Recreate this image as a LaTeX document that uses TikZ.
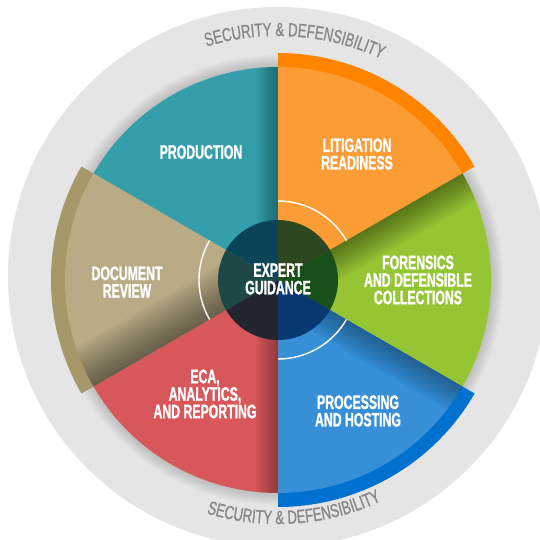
\documentclass[tikz,border=0pt]{standalone}
\usepackage{fontspec}
\usetikzlibrary{decorations.text}

\newfontfamily\wheelfont[FakeStretch=0.63,FakeBold=1.2]{Liberation Sans}
\newfontfamily\ringfont[FakeStretch=0.69,FakeBold=0.9]{Liberation Sans}

\definecolor{ringgrey}{HTML}{E5E5E5}
\definecolor{ringtext}{HTML}{878787}
\definecolor{prodteal}{HTML}{349FAB}
\definecolor{litorange}{HTML}{FB9C35}
\definecolor{litband}{HTML}{FF8400}
\definecolor{forgreen}{HTML}{96C534}
\definecolor{procblue}{HTML}{368FD7}
\definecolor{procband}{HTML}{0071CE}
\definecolor{ecared}{HTML}{D8575A}
\definecolor{revtan}{HTML}{B8AB85}
\definecolor{revband}{HTML}{A69868}

\begin{document}
\begin{tikzpicture}[
	x=1pt, y=1pt,
	seglabel/.style = {text=white, align=center, inner sep=0pt,
		font=\wheelfont\bfseries\fontsize{19.5}{17.5}\selectfont},
	ringlabel/.style = {decorate, decoration={text along path, text align=center,
		text color=ringtext,
		text={|\ringfont\fontsize{19}{19}\selectfont|SECURITY {\&} DEFENSIBILITY}}},
	guideline/.style = {draw=white, line width=1.4pt}
]
\fill[white] (-278,-260) rectangle (261,280);
\useasboundingbox (-278,-260) rectangle (261,280);

% outer ring
\fill[ringgrey] (0,3) circle (270);
\foreach \k in {1,...,8}
	\fill[black, opacity=.02] (0,0) circle (213+\k*1.5);

% outer bands
\foreach \a/\b/\col in {30/90/litband, 150/210/revband, 270/330/procband}
	\fill[\col] (0,0) -- (\a:227) arc (\a:\b:227) -- cycle;

% segments
\foreach \a/\b/\col in {90/150/prodteal, 30/90/litorange, -30/30/forgreen,
		-90/-30/procblue, -150/-90/ecared, 150/210/revtan}
	\fill[\col] (0,0) -- (\a:213) arc (\a:\b:213) -- cycle;

% shadows along the edges
\foreach \edge/\side/\ca/\cb/\w/\op in {90/1/90/150/1.6/.025, 30/-1/-30/30/2.2/.03,
		-30/-1/-90/-30/2/.025, -90/-1/-150/-90/1.6/.025, -150/-1/150/210/3/.035} {
	\begin{scope}
		\clip (0,0) -- (\ca:213) arc (\ca:\cb:213) -- cycle;
		\foreach \k in {1,...,14}
			\fill[black, opacity=\op, rotate=\edge] (0,0) rectangle (215,\side*\w*\k);
	\end{scope}
}

% white arcs
\draw[guideline] (30:79) arc (30:90:79);
\draw[guideline] (150:79) arc (150:210:79);
\draw[guideline] (270:79) arc (270:330:79);

% centre
\foreach \a/\b/\col in {90/150/0B4459, 30/90/2E4720, -30/30/18501A,
		-90/-30/0A3870, -150/-90/22242F, 150/210/1E4848} {
	\definecolor{hub}{HTML}{\col}
	\fill[hub] (0,0) -- (\a:60) arc (\a:\b:60) -- cycle;
}

\node[seglabel] (guide) at (0,1) {EXPERT\\GUIDANCE};
\node[seglabel] (prod) at (-77,128) {PRODUCTION};
\node[seglabel] (lit) at (79,126) {LITIGATION\\READINESS};
\node[seglabel] (forens) at (140,0) {FORENSICS\\AND DEFENSIBLE\\COLLECTIONS};
\node[seglabel] (proc) at (80,-131) {PROCESSING\\AND HOSTING};
\node[seglabel] (eca) at (-73,-114) {ECA,\\ANALYTICS,\\AND REPORTING};
\node[seglabel] (review) at (-151,-2) {DOCUMENT\\REVIEW};

% ring texts
\path[ringlabel] (131:244) arc (131:41:244);
\path[ringlabel] (229:244) arc (229:319:244);
\end{tikzpicture}
\end{document}
